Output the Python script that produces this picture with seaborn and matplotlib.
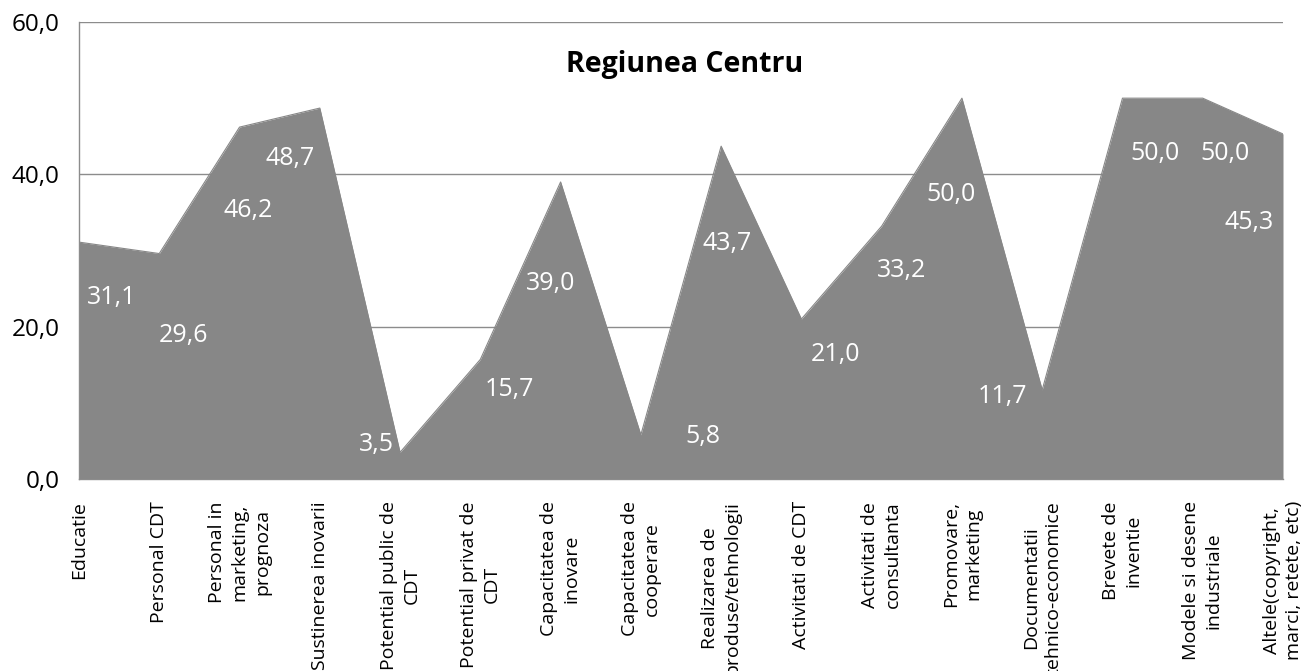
import matplotlib
matplotlib.use("Agg")
import matplotlib.pyplot as plt
import seaborn as sns
import numpy as np
import pandas as pd
from matplotlib.ticker import FuncFormatter, FixedLocator

categories = [
    "Educatie",
    "Personal CDT",
    "Personal in\nmarketing,\nprognoza",
    "Sustinerea inovarii",
    "Potential public de\nCDT",
    "Potential privat de\nCDT",
    "Capacitatea de\ninovare",
    "Capacitatea de\ncooperare",
    "Realizarea de\nproduse/tehnologii",
    "Activitati de CDT",
    "Activitati de\nconsultanta",
    "Promovare,\nmarketing",
    "Documentatii\ntehnico-economice",
    "Brevete de\ninventie",
    "Modele si desene\nindustriale",
    "Altele(copyright,\nmarci, retete, etc)",
]
values = [31.1, 29.6, 46.2, 48.7, 3.5, 15.7, 39.0, 5.8, 43.7, 21.0, 33.2, 50.0, 11.7, 50.0, 50.0, 45.3]
title = "Regiunea Centru"
y_ticks = [0, 20, 40, 60]

# label placement (layout only): offset along category axis, height in data units
label_dx = [0.41, 0.30, 0.11, -0.37, -0.29, 0.36, -0.13, 0.77, 0.08, 0.43, 0.25, -0.14, -0.49, 0.40, 0.28, -0.42]
label_y = [23.8, 18.9, 35.3, 42.1, 4.5, 11.8, 25.7, 5.6, 30.9, 16.3, 27.4, 37.3, 10.8, 42.8, 42.8, 33.7]

sns.set_style("white")
plt.rcParams['font.family'] = ['Open Sans', 'DejaVu Sans']

GRAY = "#878787"
LINE = "#8c8c8c"

df = pd.DataFrame({"idx": np.arange(len(values)), "val": values})

fig = plt.figure(figsize=(13.10, 6.71), dpi=100)
ax = fig.add_axes([79/1310, 1 - 479/671, (1283-79)/1310, (479-22)/671])

ax.fill_between(df["idx"], 0, df["val"], color=GRAY, linewidth=0, zorder=2)
sns.lineplot(data=df, x="idx", y="val", ax=ax, color=GRAY, linewidth=0.8, zorder=3)

ax.set_xlim(0, len(values) - 1)
ax.set_ylim(0, 60)
ax.yaxis.set_major_locator(FixedLocator(y_ticks))
ax.yaxis.set_major_formatter(FuncFormatter(lambda v, p: f"{v:.1f}".replace(".", ",")))
ax.set_xticks(df["idx"])
ax.set_xticklabels(categories, rotation=90, ha="center", va="top",
                   multialignment="center", fontsize=14, linespacing=1.32)
ax.set_xlabel("")
ax.set_ylabel("")

ax.grid(axis="y", color=LINE, linewidth=1.0, zorder=0)
ax.set_axisbelow(True)
for s in ["top", "right"]:
    ax.spines[s].set_visible(False)
for s in ["left", "bottom"]:
    ax.spines[s].set_color(LINE)
    ax.spines[s].set_linewidth(1.0)
    ax.spines[s].set_zorder(4)

ax.tick_params(axis="x", direction="out", length=6, width=1, color=LINE, pad=10, labelcolor="black")
ax.tick_params(axis="y", direction="out", length=6, width=1, color=LINE, pad=8,
               labelsize=17.5, labelcolor="black")

for i, v in enumerate(values):
    ax.text(i + label_dx[i], label_y[i], f"{v:.1f}".replace(".", ","),
            color="white", fontsize=18, ha="center", va="center", zorder=5)

ax.text(0.503, 0.908, title, transform=ax.transAxes, ha="center", va="center",
        fontsize=20.5, fontweight="bold", color="black", zorder=5)

fig.savefig("out.png", dpi=100)
